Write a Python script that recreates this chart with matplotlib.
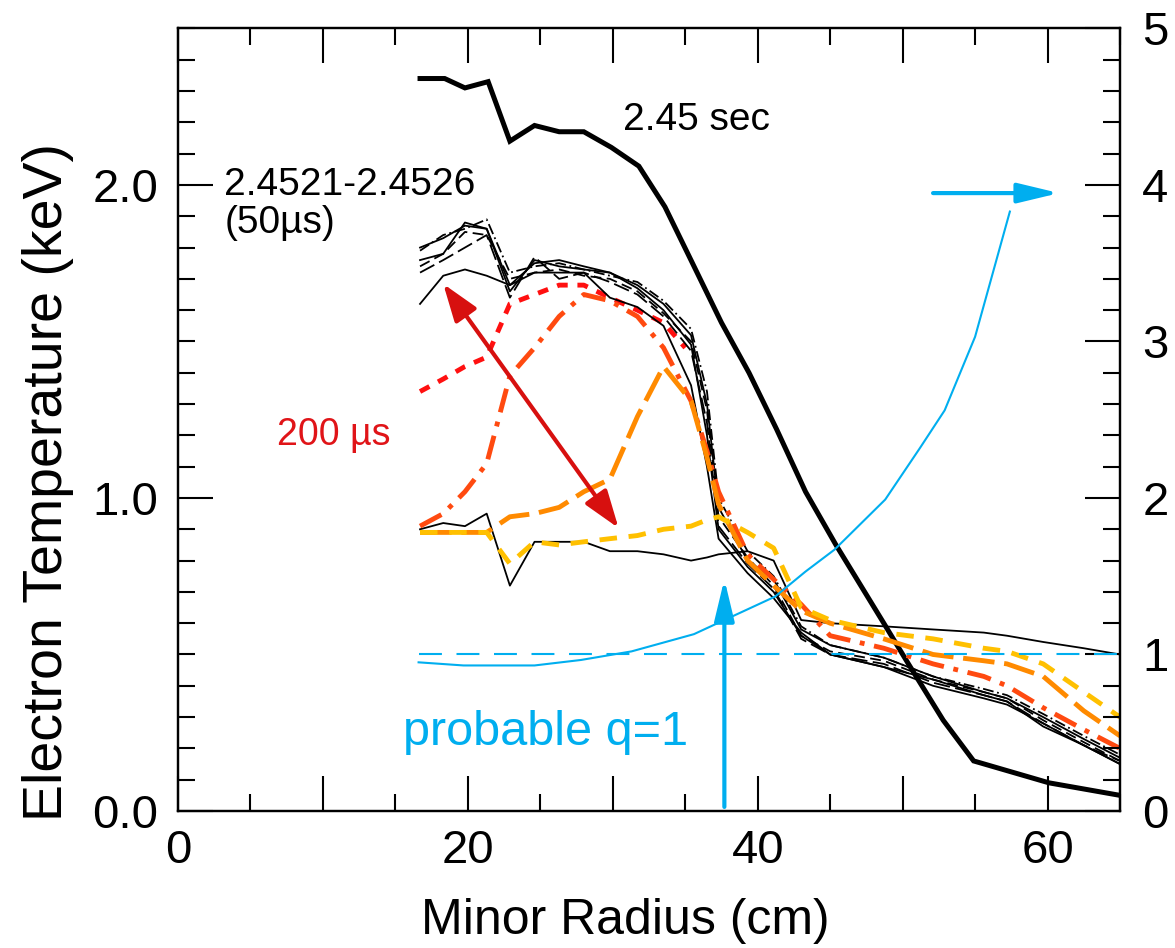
import numpy as np
import matplotlib
matplotlib.use('Agg')
import matplotlib.pyplot as plt
from matplotlib.ticker import FixedLocator, MultipleLocator, FixedFormatter

plt.rcParams['font.family'] = ['Liberation Sans', 'DejaVu Sans']

# --- datos ---
# perfil a 2.45 s (linea negra gruesa)
r_245 = [16.7, 18.4, 19.8, 21.4, 22.9, 24.6, 26.3, 28.0, 29.9, 31.8, 33.6, 35.5,
         37.5, 39.4, 41.3, 43.3, 45.4, 48.7, 50.4, 52.8, 54.9, 60.1, 65.0]
te_245 = [2.34, 2.34, 2.31, 2.33, 2.14, 2.19, 2.17, 2.17, 2.12, 2.06, 1.93, 1.75,
          1.56, 1.40, 1.22, 1.02, 0.85, 0.60, 0.47, 0.29, 0.16, 0.09, 0.05]

# radios comunes de los perfiles de 50 us
r_ece = [16.7, 18.3, 19.8, 21.3, 22.9, 24.6, 26.3, 28.0, 29.8, 31.7, 33.5, 35.4, 36.5,
         37.3, 39.3, 41.1, 43.0, 45.0, 48.7, 52.1, 55.6, 57.2, 59.7, 62.5, 65.0]

# perfiles negros finos 2.4521-2.4526
te_a = [1.62, 1.71, 1.73, 1.71, 1.68, 1.72, 1.72, 1.72, 1.64, 1.61, 1.55, 1.36, 1.10,
        0.87, 0.76, 0.68, 0.57, 0.50, 0.46, 0.42, 0.37, 0.35, 0.27, 0.21, 0.15]
te_b = [1.76, 1.78, 1.88, 1.86, 1.66, 1.76, 1.74, 1.73, 1.72, 1.68, 1.62, 1.52, 1.30,
        0.97, 0.80, 0.74, 0.58, 0.53, 0.49, 0.43, 0.38, 0.36, 0.30, 0.23, 0.17]
te_c = [1.74, 1.78, 1.85, 1.84, 1.70, 1.72, 1.73, 1.71, 1.70, 1.66, 1.59, 1.50, 1.28,
        0.94, 0.81, 0.72, 0.56, 0.51, 0.48, 0.42, 0.38, 0.36, 0.29, 0.22, 0.16]
te_d = [1.79, 1.84, 1.86, 1.89, 1.72, 1.74, 1.75, 1.73, 1.71, 1.69, 1.63, 1.54, 1.34,
        1.00, 0.83, 0.75, 0.59, 0.53, 0.49, 0.43, 0.39, 0.37, 0.31, 0.24, 0.18]
te_e = [1.72, 1.76, 1.80, 1.84, 1.64, 1.77, 1.70, 1.72, 1.69, 1.65, 1.58, 1.47, 1.24,
        0.91, 0.79, 0.71, 0.55, 0.50, 0.47, 0.41, 0.37, 0.35, 0.28, 0.21, 0.16]
te_f = [1.80, 1.83, 1.87, 1.86, 1.68, 1.75, 1.76, 1.74, 1.72, 1.67, 1.60, 1.49, 1.20,
        0.90, 0.78, 0.70, 0.56, 0.50, 0.46, 0.40, 0.36, 0.34, 0.28, 0.21, 0.15]
te_low = [0.90, 0.92, 0.91, 0.95, 0.72, 0.86, 0.86, 0.86, 0.83, 0.83, 0.82, 0.80, 0.81,
          0.82, 0.83, 0.80, 0.61, 0.60, 0.59, 0.58, 0.57, 0.56, 0.54, 0.52, 0.50]

# perfiles de colores (cada 200 us)
r_rojo = [16.7, 18.3, 19.8, 21.3, 22.9, 24.6, 26.3, 28.0, 29.8, 31.7, 33.5, 35.0]
te_rojo = [1.34, 1.38, 1.42, 1.45, 1.62, 1.65, 1.68, 1.68, 1.64, 1.60, 1.56, 1.48]
te_rojonar = [0.91, 0.95, 1.02, 1.11, 1.39, 1.48, 1.58, 1.65, 1.63, 1.58, 1.48, 1.31, 1.15,
              1.02, 0.82, 0.74, 0.66, 0.56, 0.52, 0.47, 0.43, 0.40, 0.33, 0.26, 0.20]
te_naranja = [0.89, 0.89, 0.89, 0.89, 0.94, 0.95, 0.97, 1.02, 1.06, 1.26, 1.42, 1.31, 1.13,
              0.98, 0.80, 0.72, 0.64, 0.60, 0.55, 0.50, 0.48, 0.47, 0.43, 0.32, 0.24]
te_amarillo = [0.89, 0.89, 0.89, 0.89, 0.79, 0.86, 0.85, 0.86, 0.87, 0.88, 0.90, 0.91, 0.93,
               0.94, 0.89, 0.84, 0.65, 0.61, 0.57, 0.55, 0.52, 0.51, 0.47, 0.38, 0.30]

# perfil de q (eje derecho)
r_q = [16.6, 19.7, 24.6, 27.8, 31.3, 35.6, 37.7, 41.2, 43.3, 45.3, 48.8, 51.2, 52.9, 55.0, 57.4]
q = [0.95, 0.93, 0.93, 0.965, 1.02, 1.13, 1.22, 1.37, 1.53, 1.67, 1.99, 2.32, 2.56, 3.03, 3.83]

x_ticks = [0, 10, 20, 30, 40, 50, 60]
x_labels = ['0', '', '20', '', '40', '', '60']
y_ticks = [0, 1, 2]
y_labels = ['0.0', '1.0', '2.0']
q_ticks = [0, 1, 2, 3, 4, 5]
q_labels = ['0', '1', '2', '3', '4', '5']

cian = '#00aeef'

fig = plt.figure(figsize=(11.75, 9.48), dpi=100)
ax = fig.add_axes([0.1515, 0.1445, 0.8017, 0.8255])

ax.plot(r_245, te_245, color='k', lw=3.6, solid_joinstyle='miter')

# el rojo queda debajo de los negros
ax.plot(r_rojo, te_rojo, color='#ff1010', lw=3.5, ls=(0, (2.2, 2.0)))

negros = [(te_a, '-'), (te_b, '-'), (te_c, (0, (6, 3))), (te_d, (0, (6, 2, 1, 2))),
          (te_e, (0, (9, 3))), (te_f, '-'), (te_low, '-')]
for te, ls in negros:
    ax.plot(r_ece, te, color='k', lw=1.3, ls=ls)

ax.plot(r_ece, te_rojonar, color='#ff4a10', lw=3.5, ls=(0, (5, 2, 1, 2)))
ax.plot(r_ece, te_naranja, color='#ff8a00', lw=3.5, ls=(0, (6.5, 2)))
ax.plot(r_ece, te_amarillo, color='#ffc000', lw=3.5, ls=(0, (3.6, 2.4)))

ax.set_xlim(0, 65)
ax.set_ylim(0, 2.5)
ax.xaxis.set_major_locator(FixedLocator(x_ticks))
ax.xaxis.set_major_formatter(FixedFormatter(x_labels))
ax.xaxis.set_minor_locator(MultipleLocator(5))
ax.yaxis.set_major_locator(FixedLocator(y_ticks))
ax.yaxis.set_major_formatter(FixedFormatter(y_labels))
ax.yaxis.set_minor_locator(MultipleLocator(0.1))
ax.tick_params(which='major', direction='in', length=25, width=1.5, top=True,
               right=False, labelsize=34)
ax.tick_params(which='minor', direction='in', length=12, width=1.5, top=True, right=False)
ax.tick_params(axis='x', pad=13)
ax.tick_params(axis='y', pad=14)
for s in ax.spines.values():
    s.set_linewidth(1.6)

ax.set_xlabel('Minor Radius (cm)', fontsize=36)
ax.xaxis.set_label_coords(0.4745, -0.111)
ax.set_ylabel('Electron Temperature (keV)', fontsize=40)
ax.yaxis.set_label_coords(-0.11, 0.42)

ax2 = ax.twinx()
ax2.plot(r_q, q, color=cian, lw=1.5)
ax2.axhline(1.0, xmin=16.6 / 65, xmax=1, color=cian, lw=1.5, ls=(0, (11, 7)))
ax2.set_ylim(0, 5)
ax2.yaxis.set_major_locator(FixedLocator(q_ticks))
ax2.yaxis.set_major_formatter(FixedFormatter(q_labels))
ax2.yaxis.set_minor_locator(MultipleLocator(0.2))
ax2.tick_params(which='major', direction='in', length=25, width=1.5, left=False,
                labelsize=34, pad=16)
ax2.tick_params(which='minor', direction='in', length=12, width=1.5, left=False)
for s in ax2.spines.values():
    s.set_linewidth(1.6)

# anotaciones
ax.text(30.7, 2.176, '2.45 sec', fontsize=28)
ax.text(3.2, 1.968, '2.4521-2.4526', fontsize=28)
ax.text(3.2, 1.845, '(50\u00b5s)', fontsize=28)
ax.text(6.85, 1.169, '200 \u00b5s', fontsize=27, color='#e01418')
ax.text(15.5, 0.211, 'probable q=1', fontsize=35, color=cian)

ax.annotate('', xy=(18.3, 1.684), xytext=(30.4, 0.904),
            arrowprops=dict(arrowstyle='<|-|>,head_length=2.3,head_width=0.8',
                            color='#d7100f', lw=3, shrinkA=0, shrinkB=0, mutation_scale=10))
ax.annotate('', xy=(37.7, 0.741), xytext=(37.7, 0.013),
            arrowprops=dict(arrowstyle='-|>,head_length=2.5,head_width=0.6',
                            color=cian, lw=3, shrinkA=0, shrinkB=0, mutation_scale=10))
ax.annotate('', xy=(60.8, 1.974), xytext=(52.1, 1.974),
            arrowprops=dict(arrowstyle='-|>,head_length=2.5,head_width=0.6',
                            color=cian, lw=3, shrinkA=0, shrinkB=0, mutation_scale=10))

fig.savefig('out.png', dpi=100)
